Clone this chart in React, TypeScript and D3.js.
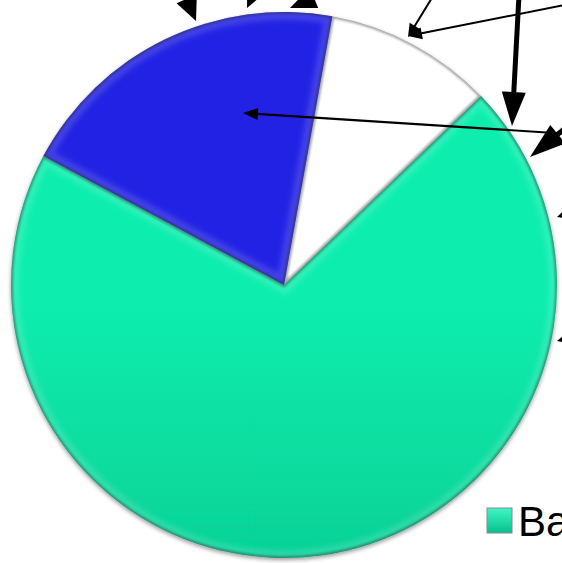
import React from "react";
import * as d3 from "d3";

// Data
const categories = ["Other", "Ba", "Alt"];
const values = [10, 70, 20];
const colorsTop = ["#ffffff", "#0aeeae", "#2424e4"];
const colorsBottom = ["#cbcbcb", "#02b37d", "#1a1ac0"];
const legendCategories = ["Ba"];

// Annotation arrows [x1, y1, x2, y2, lineWidth, headLength, headHalfWidth]
const arrows: number[][] = [
  [172, -36, 196, 21, 5, 24, 11],
  [263, -26, 247, 8, 5, 24, 11],
  [352, -18, 290, 8, 5, 26, 11],
  [438, -12, 408, 37, 2, 13, 6],
  [570, 4, 408, 36, 2, 14, 6],
  [519, -5, 512, 126, 5, 34, 12],
  [585, 112, 530, 157, 5, 36, 12],
  [570, 134, 243, 113, 2.2, 15, 6],
  [600, 204, 557, 217, 2, 8, 4],
  [600, 330, 557, 341, 2, 8, 4],
];

const W = 562, H = 563;
const cx = 284, cy = 285, R = 273;
const startDeg = 10.2;

function arrowShape(a: number[], i: number) {
  const [x1, y1, x2, y2, w, L, hw] = a;
  const dx = x2 - x1, dy = y2 - y1;
  const len = Math.hypot(dx, dy);
  const ux = dx / len, uy = dy / len;
  const nx = -uy, ny = ux;
  const bx = x2 - ux * L * 0.9, by = y2 - uy * L * 0.9;
  const b2x = x2 - ux * L, b2y = y2 - uy * L;
  const pts = [
    [x2, y2],
    [b2x + nx * hw, b2y + ny * hw],
    [b2x - nx * hw, b2y - ny * hw],
  ];
  return (
    <g key={i}>
      <line x1={x1} y1={y1} x2={bx} y2={by} stroke="#000" strokeWidth={w} />
      <polygon points={pts.map((p) => p.join(",")).join(" ")} fill="#000" />
    </g>
  );
}

export default function App() {
  const pie = d3
    .pie<number>()
    .sort(null)
    .value((d) => d)
    .startAngle((startDeg * Math.PI) / 180)
    .endAngle(((startDeg + 360) * Math.PI) / 180);
  const arcs = pie(values);
  const arc = d3.arc<d3.PieArcDatum<number>>().innerRadius(0).outerRadius(R);

  return (
    <svg
      width={W}
      height={H}
      style={{ position: "absolute", left: 0, top: 0, display: "block", background: "#fff" }}
    >
      <defs>
        {arcs.map((a, i) => (
          <linearGradient
            key={i}
            id={`g${i}`}
            gradientUnits="userSpaceOnUse"
            x1={0}
            y1={i === 0 ? 80 : cy - R}
            x2={0}
            y2={i === 0 ? cy - 10 : cy + R}
          >
            <stop offset="0" stopColor={colorsTop[i]} />
            <stop offset="1" stopColor={colorsBottom[i]} />
          </linearGradient>
        ))}
        {arcs.map((a, i) => (
          <clipPath key={i} id={`c${i}`}>
            <path d={arc(a) || ""} transform={`translate(${cx},${cy})`} />
          </clipPath>
        ))}
        <filter id="shadow" x="-10%" y="-10%" width="120%" height="120%">
          <feGaussianBlur in="SourceAlpha" stdDeviation="2" />
          <feOffset dx="0" dy="1.5" result="b" />
          <feComponentTransfer>
            <feFuncA type="linear" slope="0.4" />
          </feComponentTransfer>
          <feMerge>
            <feMergeNode />
            <feMergeNode in="SourceGraphic" />
          </feMerge>
        </filter>
        <filter id="blur3">
          <feGaussianBlur stdDeviation="2.5" />
        </filter>
        <filter id="blur1">
          <feGaussianBlur stdDeviation="1.2" />
        </filter>
        <linearGradient id="lg" x1="0" y1="0" x2="0" y2="1">
          <stop offset="0" stopColor="#3ff7c6" />
          <stop offset="1" stopColor="#06c088" />
        </linearGradient>
      </defs>

      <g filter="url(#shadow)">
        {arcs.map((a, i) => (
          <path
            key={i}
            d={arc(a) || ""}
            transform={`translate(${cx},${cy})`}
            fill={`url(#g${i})`}
          />
        ))}
      </g>
      {arcs.map((a, i) => (
        <g key={i} clipPath={`url(#c${i})`}>
          <path
            d={arc(a) || ""}
            transform={`translate(${cx},${cy})`}
            fill="none"
            stroke="#000"
            strokeOpacity={0.4}
            strokeWidth={4}
            filter="url(#blur1)"
          />
          <path
            d={arc(a) || ""}
            transform={`translate(${cx},${cy})`}
            fill="none"
            stroke="#fff"
            strokeOpacity={0.14}
            strokeWidth={16}
            filter="url(#blur3)"
          />
        </g>
      ))}

      {arrows.map((a, i) => arrowShape(a, i))}

      {legendCategories.map((c, i) => (
        <g key={c}>
          <rect x={487} y={508} width={25} height={25} fill="url(#lg)" stroke="#8a8a8a" strokeWidth={1} />
          <text
            x={518}
            y={536}
            fontFamily="Liberation Sans, Arial, sans-serif"
            fontSize={42}
            fill="#000"
          >
            {c}
          </text>
        </g>
      ))}
    </svg>
  );
}
